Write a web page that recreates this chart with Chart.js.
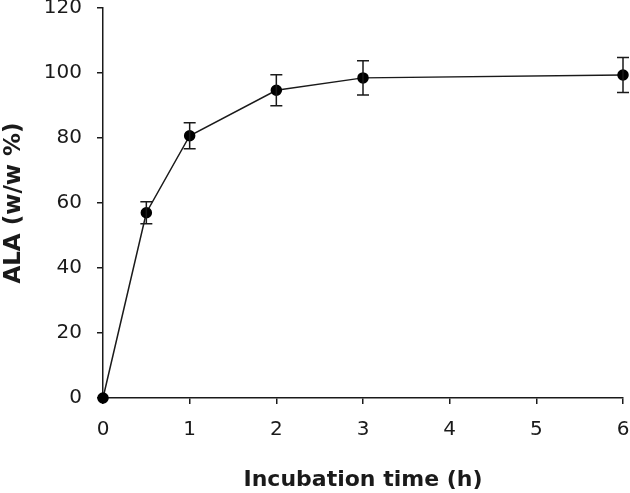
<!DOCTYPE html>
<html>
<head>
<meta charset="utf-8">
<script src="https://cdn.jsdelivr.net/npm/chart.js@4"></script>
<style>
  html, body { margin: 0; padding: 0; background: #fff; }
  #wrap { width: 630px; height: 493px; }
</style>
</head>
<body>
<div id="wrap"><canvas id="alaChart" width="630" height="493"></canvas></div>
<script>
const TIME_H = [0, 0.5, 1, 2, 3, 6];
const ALA_PCT = [0, 57, 80.7, 94.7, 98.5, 99.4];
const ALA_ERR = [0, 3.4, 4, 4.8, 5.3, 5.4];

const FONT = "'DejaVu Sans', 'Liberation Sans', Arial, sans-serif";
const INK = "#1a1a1a";

const errorBars = {
  id: "errorBars",
  afterDatasetsDraw(chart) {
    const { ctx, scales: { x, y } } = chart;
    ctx.save();
    ctx.strokeStyle = INK;
    ctx.lineWidth = 1.5;
    TIME_H.forEach((t, i) => {
      if (!ALA_ERR[i]) return;
      const px = x.getPixelForValue(t);
      const top = y.getPixelForValue(ALA_PCT[i] + ALA_ERR[i]);
      const bot = y.getPixelForValue(ALA_PCT[i] - ALA_ERR[i]);
      ctx.beginPath();
      ctx.moveTo(px, top);
      ctx.lineTo(px, bot);
      ctx.moveTo(px - 6, top);
      ctx.lineTo(px + 6, top);
      ctx.moveTo(px - 6, bot);
      ctx.lineTo(px + 6, bot);
      ctx.stroke();
    });
    ctx.restore();
  },
};

const axisBase = {
  grid: { drawOnChartArea: false, drawTicks: true, tickLength: 6, color: INK, lineWidth: 1.5 },
  border: { display: true, color: INK, width: 1.5 },
  ticks: { color: INK, font: { family: FONT, size: 20 } },
};

new Chart(document.getElementById("alaChart").getContext("2d"), {
  type: "line",
  data: {
    datasets: [
      {
        label: "ALA",
        data: TIME_H.map((t, i) => ({ x: t, y: ALA_PCT[i] })),
        borderColor: INK,
        borderWidth: 1.5,
        pointBackgroundColor: "#000",
        pointBorderColor: "#000",
        pointRadius: 5,
        tension: 0,
        clip: false,
      },
    ],
  },
  options: {
    responsive: false,
    animation: false,
    layout: { padding: { left: 0, right: 7, top: 8, bottom: 0 } },
    plugins: { legend: { display: false }, tooltip: { enabled: false } },
    scales: {
      x: {
        ...axisBase,
        type: "linear",
        min: 0,
        max: 6,
        ticks: { ...axisBase.ticks, stepSize: 1, padding: 14, maxRotation: 0 },
        title: {
          display: true,
          text: "Incubation time (h)",
          color: INK,
          font: { family: FONT, size: 22, weight: "bold" },
          padding: { top: 0, bottom: 0 },
        },
        afterFit: (scale) => {
          scale.height = 95;
          scale.paddingLeft = 0;
          scale.paddingRight = 0;
        },
      },
      y: {
        ...axisBase,
        min: 0,
        max: 120,
        ticks: { ...axisBase.ticks, stepSize: 20, padding: 15 },
        title: {
          display: true,
          text: "ALA (w/w %)",
          color: INK,
          font: { family: FONT, size: 23, weight: "bold" },
          padding: { top: 0, bottom: 0 },
        },
        afterFit: (scale) => {
          scale.width = 103;
          scale.paddingTop = 0;
          scale.paddingBottom = 0;
        },
      },
    },
  },
  plugins: [errorBars],
});
</script>
</body>
</html>
